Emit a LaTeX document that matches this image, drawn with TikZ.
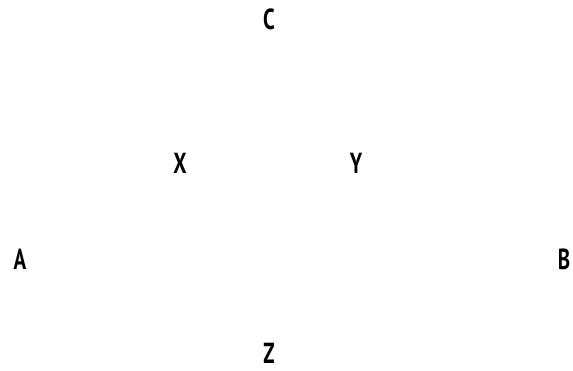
\documentclass[tikz,border=0pt]{standalone}
\usepackage{fontspec}
\setmainfont{PT Sans}
\usepackage{tikz}
\usetikzlibrary{positioning}
\tikzset{
  pt/.style={inner sep=0pt, font=\fontsize{29}{30}\selectfont\bfseries, xscale=0.72}
}

\begin{document}
\begin{tikzpicture}[x=1pt, y=1pt]
  \useasboundingbox (0,0) rectangle (573,371);
  % top and bottom points
  \node[pt] (c) at (269,352) {C};
  \node[pt] (z) at (269,18) {Z};
  % inner pair
  \node[pt] (x) at (180,208) {X};
  \node[pt] (y) at (356,208) {Y};
  % outer pair
  \node[pt] (a) at (20,112) {A};
  \node[pt] (b) at (564,112) {B};
\end{tikzpicture}
\end{document}
